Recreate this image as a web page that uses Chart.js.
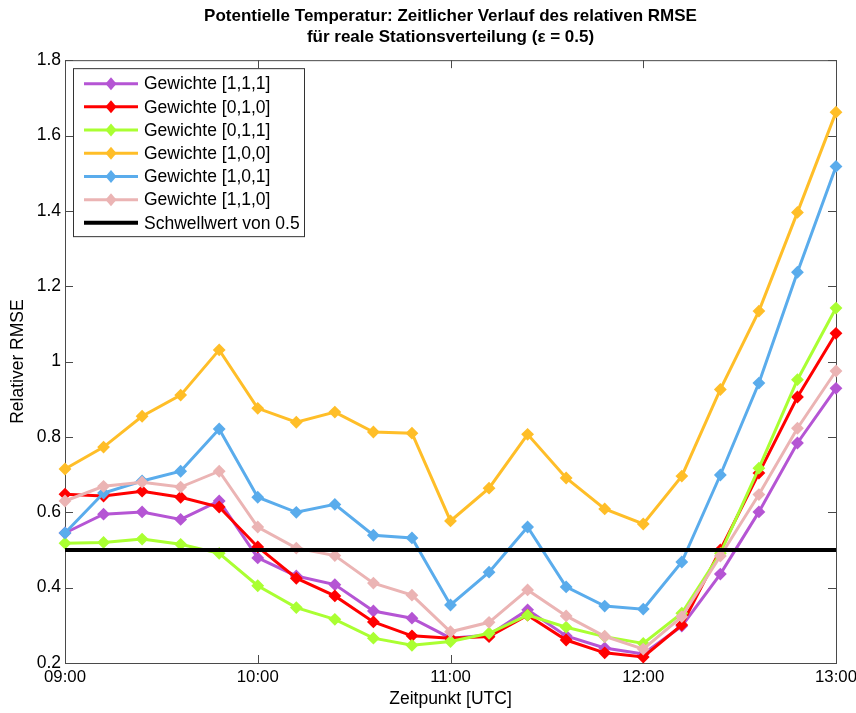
<!DOCTYPE html>
<html>
<head>
<meta charset="utf-8">
<script src="https://cdn.jsdelivr.net/npm/chart.js@4/dist/chart.umd.min.js"></script>
<style>
html,body{margin:0;padding:0;background:#fff;}
#wrap{width:856px;height:713px;}
</style>
</head>
<body>
<div id="wrap"><canvas id="c" width="856" height="713"></canvas></div>
<script>
// ---- data ----
const times = ['09:00','09:12','09:24','09:36','09:48','10:00','10:12','10:24','10:36','10:48','11:00','11:12','11:24','11:36','11:48','12:00','12:12','12:24','12:36','12:48','13:00'];
const xTickLabels = ['09:00','10:00','11:00','12:00','13:00'];
const yTickLabels = ['0.2','0.4','0.6','0.8','1','1.2','1.4','1.6','1.8'];
const seriesNames = ['Gewichte [1,1,1]','Gewichte [0,1,0]','Gewichte [0,1,1]','Gewichte [1,0,0]','Gewichte [1,0,1]','Gewichte [1,1,0]'];
const w111 = [0.545,0.595,0.601,0.581,0.630,0.479,0.431,0.408,0.338,0.319,0.266,0.274,0.341,0.272,0.240,0.224,0.298,0.436,0.601,0.784,0.929];
const w010 = [0.648,0.643,0.656,0.640,0.614,0.508,0.425,0.378,0.309,0.272,0.266,0.270,0.327,0.261,0.227,0.216,0.301,0.500,0.704,0.906,1.075];
const w011 = [0.518,0.520,0.529,0.515,0.491,0.405,0.347,0.316,0.266,0.247,0.257,0.279,0.327,0.295,0.270,0.252,0.332,0.491,0.717,0.952,1.142];
const w100 = [0.715,0.773,0.855,0.911,1.031,0.876,0.839,0.866,0.813,0.810,0.577,0.664,0.807,0.691,0.609,0.569,0.696,0.926,1.134,1.396,1.662];
const w101 = [0.545,0.651,0.683,0.709,0.821,0.640,0.600,0.621,0.539,0.532,0.354,0.441,0.561,0.402,0.351,0.343,0.468,0.699,0.943,1.237,1.518];
const w110 = [0.630,0.669,0.680,0.667,0.709,0.561,0.505,0.485,0.412,0.380,0.283,0.308,0.394,0.325,0.271,0.237,0.323,0.484,0.647,0.823,0.975];
const thresholdLabel = 'Schwellwert von 0.5';
const thresholdValue = 0.5;
const colors = ['rgb(181,85,212)','rgb(255,0,0)','rgb(170,255,50)','rgb(255,190,40)','rgb(90,172,236)','rgb(235,180,180)'];

// ---- helpers ----
const toMin = t => { const [h,m] = t.split(':').map(Number); return (h - 9) * 60 + m; };
const xs = times.map(toMin);
const allSeries = [w111, w010, w011, w100, w101, w110];
const FONT = '"Liberation Sans", Arial, sans-serif';

const datasets = allSeries.map((s, i) => ({
  label: seriesNames[i],
  data: s.map((v, j) => ({x: xs[j], y: v})),
  borderColor: colors[i],
  backgroundColor: colors[i],
  borderWidth: 3,
  pointStyle: 'rectRot',
  pointRadius: 5,
  pointBorderWidth: 2,
  pointBorderColor: colors[i],
  pointBackgroundColor: colors[i],
  tension: 0,
  clip: false,
  order: -i
}));
datasets.push({
  label: thresholdLabel,
  data: [{x: xs[0], y: thresholdValue}, {x: xs[xs.length - 1], y: thresholdValue}],
  borderColor: '#000',
  backgroundColor: '#000',
  borderWidth: 4,
  pointRadius: 0,
  clip: false,
  order: -10
});

const frame = {
  id: 'frame',
  beforeDatasetsDraw(chart) {
    const {ctx, chartArea: a, scales} = chart;
    ctx.save();
    ctx.strokeStyle = '#4a4a4a';
    ctx.lineWidth = 1;
    ctx.strokeRect(a.left + 0.5, a.top + 0.5, a.right - a.left, a.bottom - a.top);
    const L = 8;
    ctx.beginPath();
    scales.x.ticks.forEach(t => {
      const px = Math.round(scales.x.getPixelForValue(t.value)) + 0.5;
      ctx.moveTo(px, a.bottom); ctx.lineTo(px, a.bottom - L);
      ctx.moveTo(px, a.top); ctx.lineTo(px, a.top + L);
    });
    scales.y.ticks.forEach(t => {
      const py = Math.round(scales.y.getPixelForValue(t.value)) + 0.5;
      ctx.moveTo(a.left, py); ctx.lineTo(a.left + L, py);
      ctx.moveTo(a.right, py); ctx.lineTo(a.right - L, py);
    });
    ctx.stroke();
    ctx.restore();
  }
};

const legendBox = {
  id: 'legendBox',
  afterDraw(chart) {
    const {ctx, chartArea: a} = chart;
    const x0 = a.left + 8, y0 = a.top + 8, w = 231, h = 168;
    ctx.save();
    ctx.fillStyle = '#fff';
    ctx.fillRect(x0, y0, w, h);
    ctx.strokeStyle = '#333';
    ctx.lineWidth = 1;
    ctx.strokeRect(x0 + 0.5, y0 + 0.5, w, h);
    ctx.font = '17.5px ' + FONT;
    ctx.textBaseline = 'middle';
    ctx.textAlign = 'left';
    chart.data.datasets.forEach((ds, i) => {
      const cy = y0 + 15.5 + i * 23.2;
      ctx.strokeStyle = ds.borderColor;
      ctx.lineWidth = ds.borderWidth;
      ctx.beginPath();
      ctx.moveTo(x0 + 11, cy); ctx.lineTo(x0 + 65, cy);
      ctx.stroke();
      if (ds.pointRadius > 0) {
        ctx.fillStyle = ds.borderColor;
        const r = 6.5;
        ctx.beginPath();
        ctx.moveTo(x0 + 38, cy - r); ctx.lineTo(x0 + 38 + r * 0.85, cy);
        ctx.lineTo(x0 + 38, cy + r); ctx.lineTo(x0 + 38 - r * 0.85, cy);
        ctx.closePath(); ctx.fill();
      }
      ctx.fillStyle = '#000';
      ctx.fillText(ds.label, x0 + 71, cy + 1);
    });
    ctx.restore();
  }
};

new Chart(document.getElementById('c'), {
  type: 'line',
  data: {datasets},
  plugins: [frame, legendBox],
  options: {
    responsive: false,
    animation: false,
    layout: {padding: {left: 0, right: 20, top: 0, bottom: 0}},
    plugins: {
      legend: {display: false},
      tooltip: {enabled: false},
      title: {
        display: true,
        fullSize: false,
        text: ['Potentielle Temperatur: Zeitlicher Verlauf des relativen RMSE', 'für reale Stationsverteilung (ε = 0.5)'],
        color: '#000',
        font: {family: FONT, size: 17, weight: 'bold', lineHeight: 1.24},
        padding: {top: 6, bottom: 12}
      }
    },
    scales: {
      x: {
        type: 'linear',
        min: xs[0], max: xs[xs.length - 1],
        afterFit(s) { s.height = 50; s.paddingLeft = 0; s.paddingRight = 0; },
        afterBuildTicks(s) { s.ticks = xTickLabels.map(t => ({value: toMin(t)})); },
        ticks: {
          color: '#000', font: {family: FONT, size: 16.8}, padding: 4, maxRotation: 0,
          callback: v => xTickLabels.find(t => toMin(t) === v) ?? ''
        },
        grid: {display: false, drawTicks: false},
        border: {display: false},
        title: {display: true, text: 'Zeitpunkt [UTC]', color: '#000', font: {family: FONT, size: 17.5}, padding: {top: 0, bottom: 3}}
      },
      y: {
        type: 'linear',
        min: 0.2, max: 1.8,
        afterFit(s) { s.width = 65; s.paddingTop = 0; s.paddingBottom = 0; },
        afterBuildTicks(s) { s.ticks = yTickLabels.map(t => ({value: Number(t)})); },
        ticks: {
          color: '#000', font: {family: FONT, size: 17.5}, padding: 4,
          callback: v => yTickLabels.find(t => Math.abs(Number(t) - v) < 1e-9) ?? ''
        },
        grid: {display: false, drawTicks: false},
        border: {display: false},
        title: {display: true, text: 'Relativer RMSE', color: '#000', font: {family: FONT, size: 17.5}, padding: {top: 8, bottom: 0}}
      }
    }
  }
});
</script>
</body>
</html>
